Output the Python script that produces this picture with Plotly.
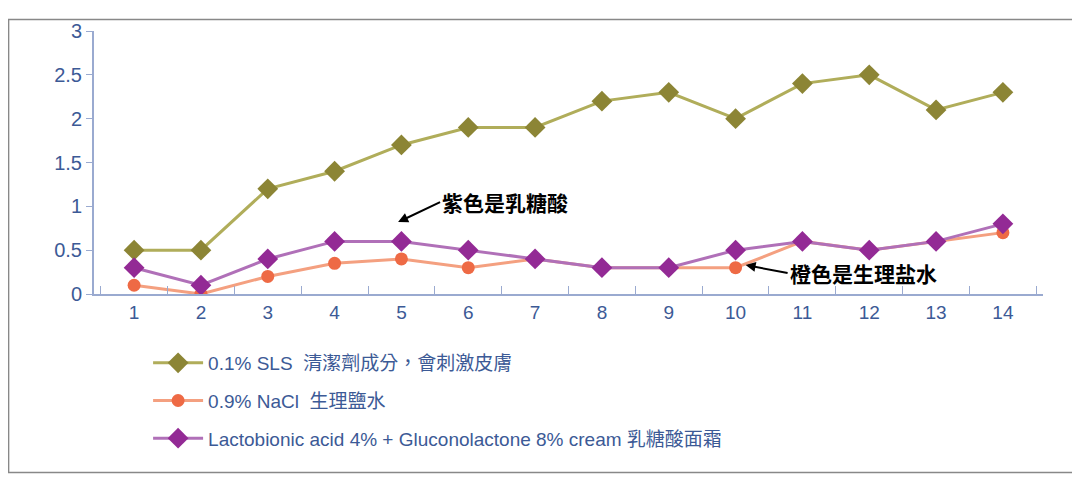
import plotly.graph_objects as go

days = list(range(1, 15))
sls = [0.5, 0.5, 1.2, 1.4, 1.7, 1.9, 1.9, 2.2, 2.3, 2.0, 2.4, 2.5, 2.1, 2.3]
nacl = [0.1, 0.0, 0.2, 0.35, 0.4, 0.3, 0.4, 0.3, 0.3, 0.3, 0.6, 0.5, 0.6, 0.7]
lacto = [0.3, 0.1, 0.4, 0.6, 0.6, 0.5, 0.4, 0.3, 0.3, 0.5, 0.6, 0.5, 0.6, 0.8]
names = ["0.1% SLS  清潔劑成分，會刺激皮膚", "0.9% NaCl  生理鹽水",
         "Lactobionic acid 4% + Gluconolactone 8% cream 乳糖酸面霜"]
ytick = [0, 0.5, 1, 1.5, 2, 2.5, 3]
ytext = ["0", "0.5", "1", "1.5", "2", "2.5", "3"]

blue = "#3c5a96"
fig = go.Figure()
fig.add_trace(go.Scatter(x=days, y=sls, name=names[0], mode="lines+markers", legendgroup="a",
    line=dict(color="#b0ad5a", width=3), marker=dict(symbol="diamond", size=16, color="#8c8535")))
fig.add_trace(go.Scatter(x=days, y=nacl, name=names[1], mode="lines+markers", legendgroup="b",
    line=dict(color="#f4a080", width=3), marker=dict(symbol="circle", size=13, color="#ee6a45")))
fig.add_trace(go.Scatter(x=days, y=lacto, name=names[2], mode="lines+markers", legendgroup="c",
    line=dict(color="#b070b8", width=3), marker=dict(symbol="diamond", size=16, color="#932a95")))

fig.update_layout(
    width=1080, height=489, paper_bgcolor="white", plot_bgcolor="white",
    margin=dict(l=86, r=45, t=12, b=203),
    font=dict(family="Liberation Sans, Noto Sans CJK TC", color=blue, size=18),
    xaxis=dict(range=[0.4, 14.6], tickvals=days, ticks="", showline=True, linecolor="#9aaad0",
               linewidth=2, showgrid=False, zeroline=False, tickfont=dict(size=19, color=blue),
               minor=dict(tickvals=[d + 0.5 for d in range(0, 15)], ticks="inside", ticklen=8,
                          tickcolor="#9aaad0", showgrid=False)),
    yaxis=dict(range=[0, 3], tickvals=ytick, ticktext=ytext, showline=True, linecolor="#9aaad0",
               linewidth=2, ticks="outside", ticklen=6, tickcolor="#9aaad0", showgrid=False,
               zeroline=False, tickfont=dict(size=20, color=blue)),
    legend=dict(x=0.057, y=-0.19, xanchor="left", yanchor="top", font=dict(size=19, color=blue),
                tracegroupgap=10, itemwidth=50, bgcolor="rgba(0,0,0,0)"),
    showlegend=True,
)
fig.add_annotation(x=4.95, y=0.82, text="<b>紫色是乳糖酸</b>", showarrow=True, arrowhead=2, arrowsize=1,
                   arrowwidth=2, arrowcolor="black", ax=42, ay=-20, axref="pixel", ayref="pixel",
                   xanchor="left", font=dict(size=21, color="black", family="Noto Sans CJK SC"),
                   standoff=0)
fig.add_annotation(x=10.15, y=0.33, text="<b>橙色是生理盐水</b>", showarrow=True, arrowhead=2, arrowwidth=2,
                   arrowcolor="black", ax=42, ay=8, xanchor="left",
                   font=dict(size=21, color="black", family="Noto Sans CJK SC"))
fig.add_shape(type="rect", xref="paper", yref="paper", x0=-0.09, x1=1.033, y0=-0.679, y1=1.044,
              line=dict(color="#888", width=1.5))
fig.write_html("out.html")
